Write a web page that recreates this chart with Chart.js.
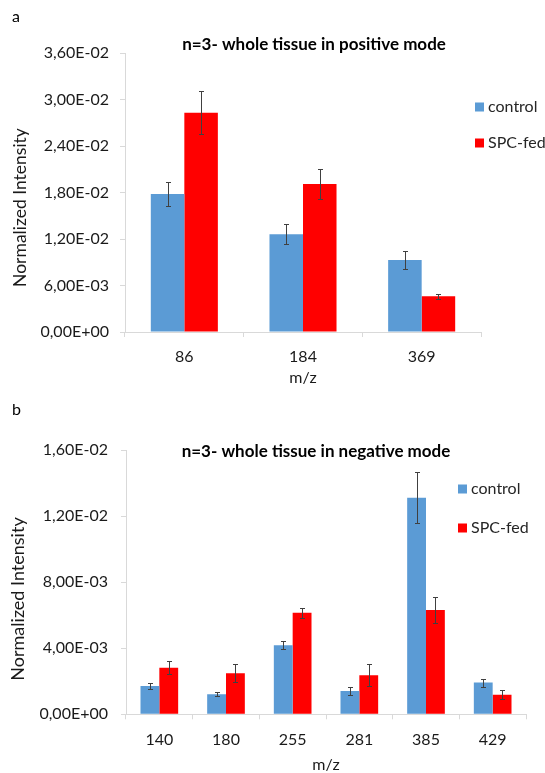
<!DOCTYPE html>
<html>
<head>
<meta charset="utf-8">
<script src="https://cdn.jsdelivr.net/npm/chart.js@4.4.0/dist/chart.umd.min.js"></script>
<style>
  html, body { margin: 0; padding: 0; background: #ffffff; overflow: hidden; }
  #wrap { position: relative; width: 545px; height: 773px; }
  canvas { position: absolute; left: 0; }
  #c1 { top: 0; }
  #c2 { top: 386px; }
</style>
</head>
<body>
<div id="wrap">
  <canvas id="c1" width="545" height="386" style="width:545px;height:386px"></canvas>
  <canvas id="c2" width="545" height="387" style="width:545px;height:387px"></canvas>
</div>
<script>
// ---- Data: panel a (positive mode) ----
const posCategories = ['86', '184', '369'];
const posControl    = [0.0178, 0.0126, 0.0093];
const posControlErr = [0.00155, 0.0013, 0.0012];
const posSpc        = [0.0283, 0.0191, 0.0046];
const posSpcErr     = [0.0028, 0.0019, 0.00035];
const posTicks      = [0, 0.006, 0.012, 0.018, 0.024, 0.030, 0.036];

// ---- Data: panel b (negative mode) ----
const negCategories = ['140', '180', '255', '281', '385', '429'];
const negControl    = [0.00171, 0.00121, 0.00418, 0.00141, 0.01311, 0.00192];
const negControlErr = [0.00017, 0.00012, 0.00024, 0.00022, 0.00153, 0.00024];
const negSpc        = [0.00282, 0.00248, 0.00615, 0.00236, 0.00631, 0.00119];
const negSpcErr     = [0.00040, 0.00055, 0.00030, 0.00067, 0.00077, 0.00028];
const negTicks      = [0, 0.004, 0.008, 0.012, 0.016];

const seriesNames = ['control', 'SPC-fed'];
const seriesColors = ['#5B9BD5', '#FF0000'];
const yAxisTitle = 'Normalized Intensity';
const xAxisTitle = 'm/z';
const FONT = 'Lato, "Open Sans", sans-serif';
const FS = 16;

function fmtSci(v) {
  let s = Number(v).toExponential(2);
  let [m, e] = s.split('e');
  let sign = e[0] === '-' ? '-' : '+';
  let num = Math.abs(parseInt(e, 10));
  return m.replace('.', ',') + 'E' + sign + (num < 10 ? '0' + num : '' + num);
}

const errorBarPlugin = {
  id: 'errorBars',
  afterDatasetsDraw(chart) {
    const ctx = chart.ctx;
    const yScale = chart.scales.y;
    ctx.save();
    ctx.strokeStyle = '#404040';
    ctx.lineWidth = 1;
    chart.data.datasets.forEach((ds, di) => {
      const meta = chart.getDatasetMeta(di);
      const errs = ds.errors || [];
      meta.data.forEach((bar, i) => {
        const v = ds.data[i], e = errs[i];
        if (e == null) return;
        const x = Math.round(bar.x) + 0.5;
        const yTop = Math.round(yScale.getPixelForValue(v + e)) + 0.5;
        const yBot = Math.round(yScale.getPixelForValue(v - e)) + 0.5;
        ctx.beginPath();
        ctx.moveTo(x, yTop); ctx.lineTo(x, yBot);
        ctx.moveTo(x - 2.5, yTop); ctx.lineTo(x + 2.5, yTop);
        ctx.moveTo(x - 2.5, yBot); ctx.lineTo(x + 2.5, yBot);
        ctx.stroke();
      });
    });
    ctx.restore();
  }
};

const decorPlugin = {
  id: 'decor',
  afterDraw(chart, args, o) {
    const ctx = chart.ctx;
    ctx.save();
    ctx.fillStyle = '#000';
    ctx.textBaseline = 'middle';
    // panel letter
    ctx.font = FS + 'px ' + FONT;
    ctx.textAlign = 'left';
    ctx.fillText(o.letter, o.letterX, o.letterY);
    // chart title
    ctx.font = 'bold ' + o.titleSize + 'px ' + FONT;
    ctx.textAlign = 'center';
    ctx.fillText(o.title, o.titleX, o.titleY);
    // y axis title (rotated)
    ctx.save();
    ctx.translate(o.yTitleX, o.yTitleY);
    ctx.rotate(-Math.PI / 2);
    ctx.font = o.yTitleSize + 'px ' + FONT;
    ctx.fillStyle = '#1a1a1a';
    ctx.textAlign = 'center';
    ctx.fillText(yAxisTitle, 0, 0);
    ctx.restore();
    // legend
    ctx.font = FS + 'px ' + FONT;
    ctx.textAlign = 'left';
    seriesNames.forEach((name, i) => {
      const y = o.legendY[i];
      ctx.fillStyle = seriesColors[i];
      ctx.fillRect(o.legendX, y - 4.5, 9, 9);
      ctx.fillStyle = '#262626';
      ctx.fillText(name, o.legendX + 13, y);
    });
    ctx.restore();
  }
};

function makeChart(canvasId, cats, ctrl, ctrlErr, spc, spcErr, ticks, cfg) {
  const tickSet = ticks.slice();
  return new Chart(document.getElementById(canvasId), {
    type: 'bar',
    data: {
      labels: cats,
      datasets: [
        { label: seriesNames[0], data: ctrl, errors: ctrlErr, backgroundColor: seriesColors[0], borderWidth: 0 },
        { label: seriesNames[1], data: spc, errors: spcErr, backgroundColor: seriesColors[1], borderWidth: 0 }
      ]
    },
    options: {
      responsive: false,
      animation: false,
      devicePixelRatio: 1,
      categoryPercentage: 0.565,
      barPercentage: 1.0,
      layout: { padding: { top: cfg.padTop, right: cfg.padRight, bottom: 0, left: 0 } },
      plugins: {
        legend: { display: false },
        tooltip: { enabled: false },
        title: { display: false },
        decor: cfg.decor
      },
      scales: {
        x: {
          grid: { display: true, drawOnChartArea: false, drawTicks: true, tickLength: 5, color: '#d9d9d9', offset: true },
          border: { display: true, color: '#d9d9d9', width: 1 },
          ticks: { color: '#1a1a1a', font: { family: FONT, size: FS }, padding: cfg.xTickPad, maxRotation: 0 },
          title: { display: true, text: xAxisTitle, color: '#1a1a1a', font: { family: FONT, size: FS, lineHeight: 1.0 }, padding: { top: 0, bottom: 0 } },
          afterFit(scale) { scale.height = cfg.xHeight; }
        },
        y: {
          min: tickSet[0],
          max: tickSet[tickSet.length - 1],
          afterBuildTicks(scale) { scale.ticks = tickSet.map(v => ({ value: v })); },
          grid: { display: true, drawOnChartArea: false, drawTicks: true, tickLength: 5, color: '#d9d9d9' },
          border: { display: true, color: '#d9d9d9', width: 1 },
          ticks: { color: '#1a1a1a', font: { family: FONT, size: FS }, padding: cfg.yTickPad, callback: (v) => fmtSci(v) },
          title: { display: false },
          afterFit(scale) { scale.width = cfg.yWidth; }
        }
      }
    },
    plugins: [errorBarPlugin, decorPlugin]
  });
}

makeChart('c1', posCategories, posControl, posControlErr, posSpc, posSpcErr, posTicks, {
  padTop: 53, padRight: 64, xHeight: 54, yWidth: 125, xTickPad: 10, yTickPad: 11,
  decor: { letter: 'a', letterX: 12, letterY: 17, title: 'n=3- whole tissue in positive mode', titleSize: 17, titleX: 314, titleY: 45,
           yTitleX: 20, yTitleY: 207.5, yTitleSize: 17.5, legendX: 475, legendY: [107, 143] }
});

makeChart('c2', negCategories, negControl, negControlErr, negSpc, negSpcErr, negTicks, {
  padTop: 64, padRight: 19, xHeight: 58.7, yWidth: 126, xTickPad: 11, yTickPad: 13,
  decor: { letter: 'b', letterX: 12, letterY: 24, title: 'n=3- whole tissue in negative mode', titleSize: 17, titleX: 316, titleY: 66,
           yTitleX: 18.5, yTitleY: 213, yTitleSize: 18, legendX: 458, legendY: [103, 142] }
});
</script>
</body>
</html>
